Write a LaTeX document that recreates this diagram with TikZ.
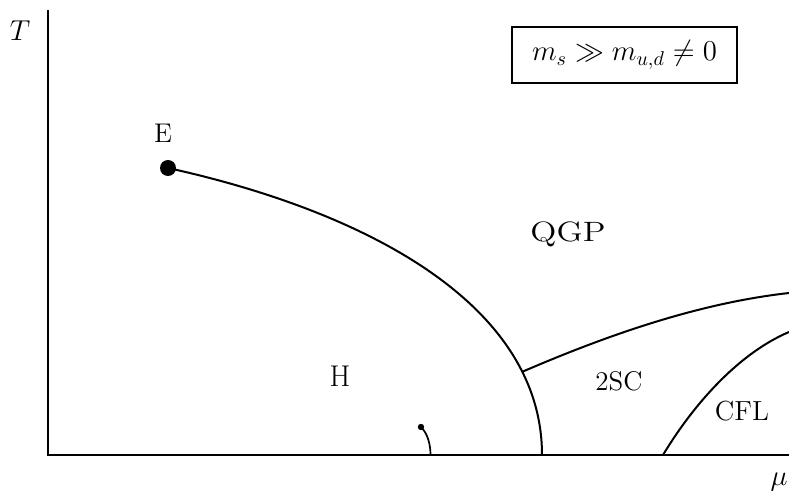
\documentclass[tikz,border=0pt]{standalone}
\usepackage{graphicx}
\begin{document}
\begin{tikzpicture}[x=0.5pt,y=-0.5pt,
  axis/.style={line width=0.75pt},
  phase/.style={line width=1pt},
  lbl/.style={inner sep=0pt, anchor=center},
  bigdot/.style={circle, fill=black, inner sep=0pt, minimum size=8pt},
  smalldot/.style={circle, fill=black, inner sep=0pt, minimum size=3.2pt},
  massbox/.style={draw, line width=0.6pt, minimum width=112.5pt, minimum height=28pt, inner sep=0pt}]
\useasboundingbox (0,0) rectangle (789,492);
% axes
\coordinate (O) at (48,455);
\coordinate (Ttop) at (48,10);
\coordinate (Mend) at (789,455);
\draw[axis] (Ttop) -- (O) -- (Mend);
\node[lbl, font=\fontsize{14.4}{17}\selectfont] (Tl) at (20,31) {$T$};
\node[lbl, font=\fontsize{14.4}{17}\selectfont] (mul) at (779,482) {$\mu$};
% critical endpoint and first-order line
\node[bigdot] (E) at (168,168) {};
\coordinate (Ebot) at (542,455);
\draw[phase] (E.center) .. controls (368,212) and (542,305) .. (Ebot) coordinate[pos=0.8] (J);
\node[lbl, font=\fontsize{13.5}{16}\selectfont] (El) at (163,133) {E};
% 2SC boundary
\coordinate (R1) at (789,293);
\draw[phase] (J) .. controls (610,334) and (700,303) .. (R1);
% CFL boundary
\coordinate (C0) at (663,455);
\coordinate (R2) at (789,332);
\draw[phase] (C0) .. controls (690,410) and (735,355) .. (R2);
% liquid-gas line
\node[smalldot] (LG) at (421,427) {};
\coordinate (LGb) at (430.5,455);
\draw[phase, line width=0.85pt] (LG.center) .. controls (428,434) and (430.5,445) .. (LGb);
% labels
\node[lbl, font=\fontsize{14}{16}\selectfont] (QGP) at (568,234) {\scalebox{1.22}[1]{QGP}};
\node[lbl, font=\fontsize{15}{17}\selectfont] (H) at (340,376) {H};
\node[lbl, font=\fontsize{13.5}{16}\selectfont] (SC) at (619,381) {2SC};
\node[lbl, font=\fontsize{13.8}{16}\selectfont] (CFL) at (742,411) {CFL};
\node[massbox, font=\fontsize{14.5}{17}\selectfont] (box) at (624.5,55) {$m_s \gg m_{u,d} \neq 0$};
\end{tikzpicture}
\end{document}
